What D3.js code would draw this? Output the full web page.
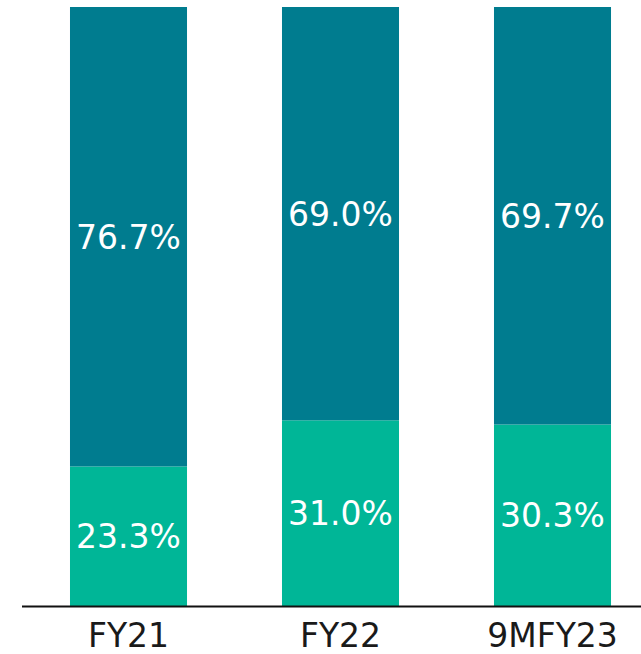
<!DOCTYPE html>
<html>
<head>
<meta charset="utf-8">
<script src="https://cdn.jsdelivr.net/npm/d3@7"></script>
<style>
  body { margin: 0; background: #fff; }
  svg { display: block; }
</style>
</head>
<body>
<div id="chart"></div>
<script>
var categories = ['FY21', 'FY22', '9MFY23'];
var bottomValues = [23.3, 31.0, 30.3];
var topValues = [76.7, 69.0, 69.7];

var width = 641, height = 654;
var margin = {top: 7, bottom: 48};
var baseY = height - margin.bottom;

var colors = {bottom: '#00b697', top: '#007c8f'};

var svg = d3.select('#chart')
    .append('svg')
    .attr('width', width)
    .attr('height', height);

var x = d3.scaleBand()
    .domain(categories)
    .range([22.5, 658.5])
    .paddingInner(0.448)
    .paddingOuter(0.224);

var y = d3.scaleLinear()
    .domain([0, 100])
    .range([baseY, margin.top]);

var rows = categories.map(function(c, i) {
    return {cat: c, bottom: bottomValues[i], top: topValues[i]};
});

var stack = d3.stack().keys(['bottom', 'top'])(rows);

var layers = svg.selectAll('g.layer')
    .data(stack)
    .enter()
    .append('g')
    .attr('class', 'layer')
    .attr('fill', function(d) { return colors[d.key]; });

layers.selectAll('rect')
    .data(function(d) { return d; })
    .enter()
    .append('rect')
    .attr('x', function(d) { return x(d.data.cat); })
    .attr('width', x.bandwidth())
    .attr('y', function(d) { return y(d[1]); })
    .attr('height', function(d) { return y(d[0]) - y(d[1]); });

// value labels
layers.selectAll('text')
    .data(function(d) { return d.map(function(p) { return {p: p, key: d.key}; }); })
    .enter()
    .append('text')
    .attr('x', function(d) { return x(d.p.data.cat) + x.bandwidth() / 2; })
    .attr('y', function(d) { return (y(d.p[0]) + y(d.p[1])) / 2; })
    .attr('dy', '0.36em')
    .attr('text-anchor', 'middle')
    .attr('fill', '#fff')
    .style('font-family', '"DejaVu Sans", sans-serif')
    .style('font-size', '33px')
    .text(function(d) { return d.p.data[d.key].toFixed(1) + '%'; });

// axis
var axis = svg.append('g')
    .attr('transform', 'translate(0,' + baseY + ')')
    .call(d3.axisBottom(x).tickSize(0).tickPadding(18));

axis.select('.domain')
    .attr('d', 'M22,0.5H641')
    .attr('stroke', '#111')
    .attr('stroke-width', 2);

axis.selectAll('text')
    .attr('fill', '#1a1a1a')
    .style('font-family', '"DejaVu Sans", sans-serif')
    .style('font-size', '33px');
</script>
</body>
</html>
